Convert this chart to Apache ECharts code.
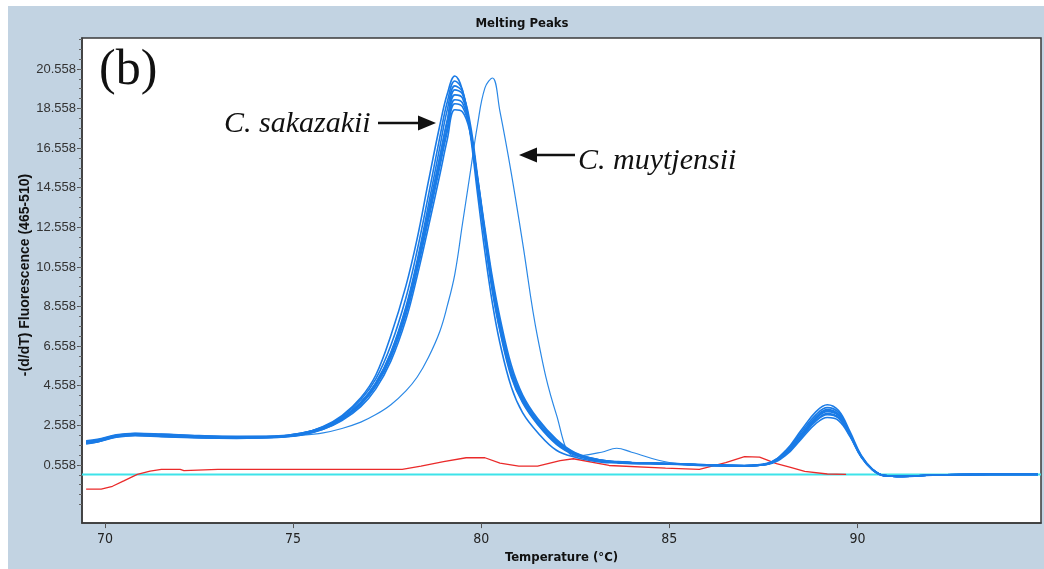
<!DOCTYPE html>
<html><head><meta charset="utf-8">
<script src="https://cdn.jsdelivr.net/npm/echarts@6/dist/echarts.min.js"></script>
<style>
html,body{margin:0;padding:0;background:#fff;}
#wrap{position:relative;width:1044px;height:569px;background:#fff;}
#frame{position:absolute;left:8px;top:6px;right:0;bottom:0;background:#c2d3e2;}
#c{position:absolute;left:0;top:0;width:1044px;height:569px;}
</style>
</head><body>
<div id="wrap"><div id="frame"></div><div id="c"></div></div>
<script>
// shared temperature grid (°C)
const temps = [69.5,69.8,70.3,70.8,71.5,72.5,73.5,74.5,75.2,75.8,76.3,76.8,77.2,77.6,78.0,78.3,78.6,78.9,79.1,79.3,79.5,79.7,79.9,80.1,80.3,80.5,80.8,81.1,81.5,82.0,82.5,83.2,83.6,84.0,85.0,86.0,87.0,87.6,88.1,88.5,88.9,89.2,89.5,89.8,90.1,90.4,90.7,91.2,92.0,93.5,94.8];
// C. sakazakii replicates
const sak1 = [1.62,1.72,1.98,2.08,2.02,1.94,1.92,1.96,2.12,2.5,3.05,3.95,5.1,7.1,9.6,12.0,14.9,17.7,19.3,20.2,19.5,17.4,14.3,11.3,8.7,6.7,4.5,3.2,2.2,1.3,0.95,0.7,0.66,0.62,0.6,0.52,0.5,0.62,1.3,2.3,3.25,3.6,3.3,2.25,1.05,0.35,0.02,-0.03,0.04,0.08,0.08];
const sak2 = [1.75,1.82,2.06,2.14,2.1,2.02,1.98,2.0,2.15,2.48,3.0,3.85,4.9,6.6,9.0,11.4,14.2,17.1,18.9,19.95,19.5,17.6,14.8,11.9,9.3,7.3,5.0,3.7,2.6,1.6,1.05,0.74,0.7,0.66,0.63,0.56,0.53,0.64,1.25,2.2,3.1,3.45,3.2,2.15,1.0,0.33,0.03,-0.02,0.05,0.08,0.08];
const sak3 = [1.68,1.76,2.0,2.1,2.06,1.98,1.95,1.97,2.1,2.42,2.92,3.72,4.7,6.25,8.55,10.9,13.7,16.6,18.5,19.7,19.4,17.5,14.8,12.0,9.4,7.4,5.1,3.75,2.65,1.65,1.08,0.75,0.7,0.66,0.62,0.55,0.52,0.62,1.2,2.1,3.0,3.35,3.1,2.1,0.98,0.32,0.02,-0.02,0.05,0.08,0.08];
const sak4 = [1.72,1.8,2.04,2.12,2.08,2.0,1.96,1.99,2.14,2.44,2.9,3.65,4.55,6.0,8.2,10.5,13.2,16.1,18.0,19.5,19.3,17.9,15.2,12.3,9.7,7.6,5.2,3.85,2.7,1.7,1.1,0.76,0.71,0.67,0.62,0.55,0.52,0.6,1.15,2.0,2.9,3.25,3.05,2.1,1.0,0.34,0.03,-0.02,0.05,0.08,0.08];
const sak5 = [1.66,1.74,1.98,2.06,2.0,1.94,1.92,1.95,2.08,2.4,2.9,3.7,4.7,6.2,8.45,10.75,13.4,16.1,17.9,19.25,19.1,17.6,14.9,12.1,9.5,7.5,5.15,3.8,2.68,1.68,1.1,0.76,0.7,0.66,0.61,0.54,0.51,0.6,1.18,2.05,2.95,3.3,3.08,2.12,1.0,0.33,0.02,-0.02,0.05,0.08,0.08];
const sak6 = [1.78,1.85,2.08,2.16,2.12,2.04,2.0,2.02,2.16,2.46,2.95,3.7,4.65,6.1,8.3,10.55,13.1,15.8,17.6,19.0,18.85,17.6,15.0,12.2,9.6,7.6,5.25,3.9,2.75,1.72,1.12,0.78,0.72,0.68,0.63,0.56,0.53,0.6,1.1,1.95,2.8,3.15,2.95,2.05,0.98,0.33,0.03,-0.02,0.05,0.08,0.08];
const sak7 = [1.64,1.72,1.96,2.04,1.98,1.92,1.9,1.94,2.06,2.36,2.85,3.6,4.55,6.0,8.15,10.4,12.95,15.6,17.4,18.8,18.65,17.5,15.0,12.3,9.8,7.8,5.4,4.0,2.85,1.8,1.15,0.8,0.73,0.68,0.62,0.55,0.52,0.6,1.12,1.95,2.78,3.1,2.92,2.05,0.98,0.32,0.02,-0.02,0.05,0.08,0.08];
const sak8 = [1.7,1.78,2.02,2.1,2.04,1.96,1.94,1.96,2.08,2.36,2.8,3.5,4.4,5.8,7.9,10.1,12.6,15.2,17.0,18.5,18.4,17.4,15.1,12.5,10.0,8.0,5.6,4.1,2.9,1.85,1.18,0.8,0.72,0.68,0.62,0.55,0.52,0.58,1.05,1.85,2.65,2.95,2.8,2.0,0.95,0.3,0.02,-0.02,0.05,0.08,0.08];
// C. muytjensii
const muyt = [1.72,1.8,2.04,2.12,2.06,1.98,1.95,1.97,2.05,2.18,2.4,2.72,3.1,3.6,4.3,5.0,6.0,7.3,8.6,10.2,12.7,15.2,17.7,19.6,20.1,18.4,15.3,11.8,7.0,3.1,1.0,1.2,1.4,1.2,0.68,0.58,0.52,0.6,1.15,2.05,2.95,3.3,3.05,2.1,1.0,0.33,0.02,-0.02,0.05,0.08,0.08];
// negative control (red)
const redT = [69.5,69.9,70.2,70.5,70.86,71.2,71.5,72.0,72.1,73.0,77.9,78.4,79.0,79.6,80.1,80.5,81.0,81.5,82.1,82.45,83.4,84.9,85.8,86.5,87.0,87.4,87.85,88.2,88.6,89.2,89.7];
const redV = [-0.66,-0.66,-0.52,-0.25,0.08,0.25,0.33,0.33,0.27,0.33,0.33,0.5,0.72,0.92,0.92,0.65,0.5,0.5,0.78,0.87,0.53,0.4,0.33,0.67,0.98,0.95,0.62,0.45,0.23,0.1,0.08];
// baseline (cyan)
const cyanT = [69.39, 94.88];
const cyanV = [0.07, 0.07];
// axis ticks
const xTicks = [70, 75, 80, 85, 90];
const yTicks = [0.558, 2.558, 4.558, 6.558, 8.558, 10.558, 12.558, 14.558, 16.558, 18.558, 20.558];

const X_MIN = 69.39, X_MAX = 94.88, Y_MIN = -2.38, Y_MAX = 22.12;
const yMinor = [];
for (let v = yTicks[0] - 2; v <= Y_MAX; v += 0.5) { yMinor.push(+v.toFixed(3)); }

const pair = (xs, ys) => xs.map((x, i) => [x, ys[i]]);
const narrow = '"Liberation Sans Narrow","DejaVu Sans Condensed","Liberation Sans",sans-serif';
const sak = [sak1, sak2, sak3, sak4, sak5, sak6, sak7, sak8];

const series = [
  { name: 'baseline', type: 'line', data: pair(cyanT, cyanV), showSymbol: false, lineStyle: { color: '#3ee3ea', width: 2 }, z: 2 },
  { name: 'control', type: 'line', data: pair(redT, redV), showSymbol: false, lineStyle: { color: '#ea2a2a', width: 1.3 }, z: 3 },
  { name: 'C. muytjensii', type: 'line', data: pair(temps, muyt), smooth: 0.4, showSymbol: false, lineStyle: { color: '#2a88e6', width: 1.2 }, z: 4 }
].concat(sak.map((s, i) => ({
  name: 'C. sakazakii ' + (i + 1), type: 'line', data: pair(temps, s), smooth: 0.4,
  showSymbol: false, lineStyle: { color: '#1a7be6', width: 1.6 }, z: 5
})));

const chart = echarts.init(document.getElementById('c'), null, { renderer: 'canvas' });
chart.setOption({
  backgroundColor: 'transparent',
  animation: false,
  title: { text: 'Melting Peaks', left: 'center', top: 12, textStyle: { fontSize: 13, fontWeight: 'bold', color: '#111', fontFamily: narrow } },
  grid: { left: 82, top: 38, right: 3, bottom: 41, show: true, backgroundColor: '#ffffff', borderColor: '#3a3a3a', borderWidth: 1.5 },
  xAxis: {
    type: 'value', min: X_MIN, max: X_MAX,
    axisLine: { show: true, onZero: false, lineStyle: { color: '#3a3a3a', width: 1.5 } },
    axisTick: { show: true, length: 5, customValues: xTicks, lineStyle: { color: '#555' } },
    axisLabel: { customValues: xTicks, margin: 9, fontSize: 14, color: '#222', fontFamily: narrow },
    splitLine: { show: false },
    name: 'Temperature (°C)', nameLocation: 'middle', nameGap: 23,
    nameTextStyle: { fontSize: 13, fontWeight: 'bold', color: '#111', fontFamily: narrow }
  },
  yAxis: [{
    type: 'value', min: Y_MIN, max: Y_MAX,
    axisLine: { show: true, onZero: false, lineStyle: { color: '#3a3a3a', width: 1.5 } },
    axisTick: { show: true, length: 5, customValues: yTicks, lineStyle: { color: '#555' } },
    axisLabel: { customValues: yTicks, formatter: v => Number(v).toFixed(3), margin: 6, fontSize: 13, color: '#333', fontFamily: '"Liberation Sans",Arial,sans-serif' },
    splitLine: { show: false }
  }, {
    type: 'value', min: Y_MIN, max: Y_MAX, position: 'left',
    axisLine: { show: false, onZero: false },
    axisTick: { show: true, length: 3, customValues: yMinor, lineStyle: { color: '#666' } },
    axisLabel: { show: false }, splitLine: { show: false }
  }],
  graphic: [
    { type: 'text', x: 25, y: 275, rotation: Math.PI / 2, z: 100, style: { text: '-(d/dT) Fluorescence (465-510)', font: 'bold 14px "Liberation Sans",Arial,sans-serif', fill: '#111', align: 'center', verticalAlign: 'middle', textAlign: 'center', textVerticalAlign: 'middle' } },
    { type: 'text', left: 99, top: 46, z: 100, style: { text: '(b)', font: '50px "Liberation Serif","DejaVu Serif",serif', fill: '#111' } },
    { type: 'text', left: 224, top: 109, z: 100, style: { text: 'C. sakazakii', font: 'italic 30px "Liberation Serif","DejaVu Serif",serif', fill: '#111' } },
    { type: 'line', z: 100, shape: { x1: 378, y1: 123, x2: 420, y2: 123 }, style: { stroke: '#111', lineWidth: 2.5 } },
    { type: 'polygon', z: 100, shape: { points: [[418, 115.5], [436, 123], [418, 130.5]] }, style: { fill: '#111' } },
    { type: 'text', left: 578, top: 146, z: 100, style: { text: 'C. muytjensii', font: 'italic 30px "Liberation Serif","DejaVu Serif",serif', fill: '#111' } },
    { type: 'line', z: 100, shape: { x1: 575, y1: 155, x2: 535, y2: 155 }, style: { stroke: '#111', lineWidth: 2.5 } },
    { type: 'polygon', z: 100, shape: { points: [[537, 147.5], [519, 155], [537, 162.5]] }, style: { fill: '#111' } }
  ],
  series: series
});
</script>
</body></html>
